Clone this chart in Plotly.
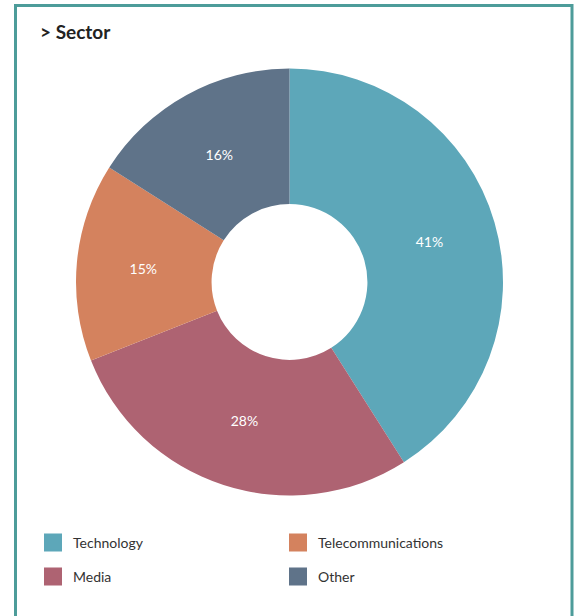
import plotly.graph_objects as go

# Sector breakdown (percent)
sectors = ["Technology", "Media", "Telecommunications", "Other"]
shares = [41, 28, 15, 16]
colors = ["#5da7b9", "#ae6372", "#d4825e", "#5f7389"]

# Legend rows: (sector, legend id)
legend_rows = [("Technology", "legend"), ("Telecommunications", "legend"),
               ("Media", "legend2"), ("Other", "legend2")]

W, H = 576, 616
FONT = "Lato"

fig = go.Figure()

fig.add_trace(go.Pie(
    labels=sectors,
    values=shares,
    marker=dict(colors=colors, line=dict(width=0)),
    hole=0.365,
    sort=False,
    direction="clockwise",
    rotation=0,
    textinfo="percent",
    texttemplate="%{percent:.0%}",
    textposition="inside",
    insidetextorientation="horizontal",
    textfont=dict(color="white", size=14, family=FONT),
    domain=dict(x=[76 / W, 503 / W], y=[(H - 496) / H, (H - 68) / H]),
    showlegend=False,
    hoverinfo="label+percent",
))

# Legend entries as square swatches
color_of = dict(zip(sectors, colors))
for name, leg in legend_rows:
    fig.add_trace(go.Scatter(
        x=[None], y=[None], mode="markers", name=name,
        marker=dict(symbol="square", size=18, color=color_of[name],
                    line=dict(color=color_of[name], width=2)),
        legend=leg, showlegend=True, hoverinfo="skip",
    ))

legend_common = dict(
    orientation="h",
    xanchor="left",
    x=33 / W,
    yanchor="middle",
    entrywidth=200,
    entrywidthmode="pixels",
    font=dict(family=FONT, size=14, color="#333333"),
    bgcolor="rgba(0,0,0,0)",
)

fig.update_layout(
    width=W, height=H,
    margin=dict(l=0, r=0, t=0, b=0),
    paper_bgcolor="white",
    plot_bgcolor="white",
    font=dict(family=FONT),
    title=dict(
        text="<b>&gt; Sector</b>",
        x=40 / W, xanchor="left", xref="paper",
        y=1 - 32 / H, yanchor="middle", yref="container",
        font=dict(family=FONT, size=19, color="#222222"),
    ),
    xaxis=dict(visible=False),
    yaxis=dict(visible=False),
    legend=dict(y=(H - 543) / H, **legend_common),
    legend2=dict(y=(H - 577) / H, **legend_common),
    shapes=[dict(
        type="path", xref="paper", yref="paper",
        path=f"M {15.5 / W},-0.05 L {15.5 / W},{1 - 5.5 / H} "
             f"L {572 / W},{1 - 5.5 / H} L {572 / W},-0.05",
        line=dict(color="#4d9c9a", width=3),
    )],
)

fig.write_html("out.html")
